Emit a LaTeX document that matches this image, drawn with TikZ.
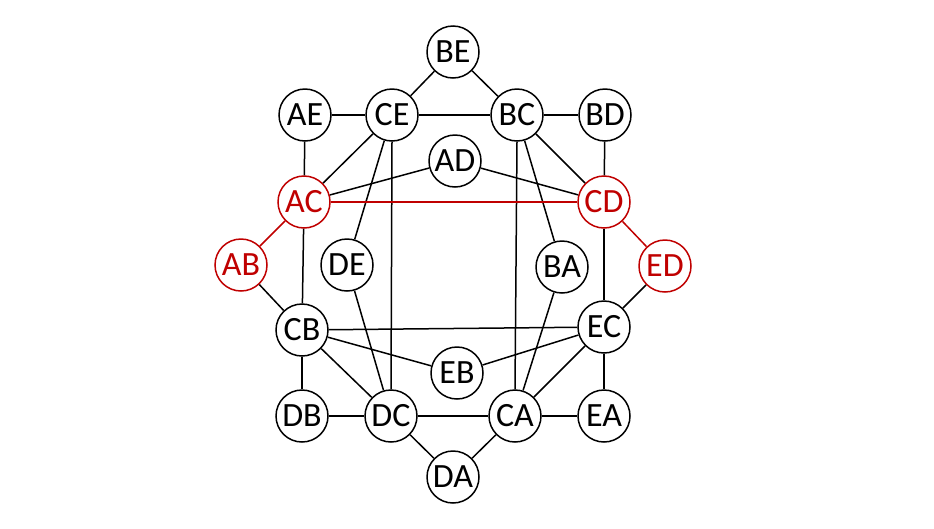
\documentclass[tikz,border=0pt]{standalone}
\usepackage{fontspec}
\setmainfont{Carlito}
\definecolor{myred}{RGB}{192,0,0}
\tikzset{
  vtx/.style={circle,draw=black,line width=1.5pt,fill=white,minimum size=52pt,inner sep=0pt,font=\fontsize{34}{38}\selectfont},
  rvtx/.style={vtx,draw=myred,text=myred},
  edge/.style={line width=1.5pt,black},
  redge/.style={line width=1.5pt,myred}
}
\begin{document}
\begin{tikzpicture}[x=1pt,y=-1pt]
\useasboundingbox (0,0) rectangle (934,528);
\node[vtx] (BE) at (453,52) {BE};
\node[vtx] (AE) at (305,115) {AE};
\node[vtx] (CE) at (392,115) {CE};
\node[vtx] (BC) at (517,115) {BC};
\node[vtx] (BD) at (605,115) {BD};
\node[vtx] (AD) at (455,161) {AD};
\node[rvtx] (AC) at (304,202) {AC};
\node[rvtx] (CD) at (604,202) {CD};
\node[rvtx] (AB) at (241,265) {AB};
\node[vtx] (DE) at (347,265) {DE};
\node[vtx] (BA) at (562,267) {BA};
\node[rvtx] (ED) at (665,266) {ED};
\node[vtx] (CB) at (302,330) {CB};
\node[vtx] (EC) at (604,327) {EC};
\node[vtx] (EB) at (457,373) {EB};
\node[vtx] (DB) at (302,416) {DB};
\node[vtx] (DC) at (391,416) {DC};
\node[vtx] (CA) at (515,416) {CA};
\node[vtx] (EA) at (604,416) {EA};
\node[vtx] (DA) at (453,477) {DA};
\draw[edge] (BE) -- (CE);
\draw[edge] (BE) -- (BC);
\draw[edge] (AE) -- (CE);
\draw[edge] (CE) -- (BC);
\draw[edge] (BC) -- (BD);
\draw[edge] (AE) -- (AC);
\draw[edge] (CE) -- (AC);
\draw[edge] (CE) -- (DE);
\draw[edge] (CE.south) -- (DC.north);
\draw[edge] (AD) -- (AC);
\draw[edge] (AD) -- (CD);
\draw[edge] (BC.south) -- (CA.north);
\draw[edge] (BC) -- (BA);
\draw[edge] (BC) -- (CD);
\draw[edge] (BD) -- (CD);
\draw[redge] (AC) -- (CD);
\draw[redge] (AC) -- (AB);
\draw[redge] (CD) -- (ED);
\draw[edge] (AC) -- (CB);
\draw[edge] (AB) -- (CB);
\draw[edge] (DE) -- (DC);
\draw[edge] (BA) -- (CA);
\draw[edge] (CD) -- (EC);
\draw[edge] (ED) -- (EC);
\draw[edge] (CB) -- (EC);
\draw[edge] (CB) -- (EB);
\draw[edge] (EB) -- (EC);
\draw[edge] (CB) -- (DC);
\draw[edge] (CB) -- (DB);
\draw[edge] (EC) -- (CA);
\draw[edge] (EC) -- (EA);
\draw[edge] (DB) -- (DC);
\draw[edge] (DC) -- (CA);
\draw[edge] (CA) -- (EA);
\draw[edge] (DC) -- (DA);
\draw[edge] (CA) -- (DA);
\end{tikzpicture}
\end{document}
